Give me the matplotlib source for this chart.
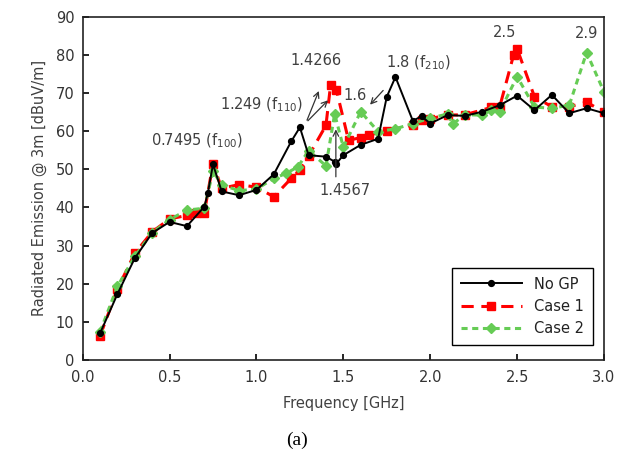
import matplotlib
matplotlib.use("Agg")
import matplotlib.pyplot as plt

# ---- data ----
f_nogp = [0.1, 0.2, 0.3, 0.4, 0.5, 0.6, 0.7, 0.72, 0.75, 0.8,
          0.9, 1.0, 1.1, 1.2, 1.25, 1.3, 1.4, 1.45, 1.46, 1.5,
          1.6, 1.7, 1.75, 1.8, 1.9, 1.95, 2.0, 2.1, 2.2, 2.3,
          2.4, 2.5, 2.6, 2.7, 2.8, 2.9, 3.0]
v_nogp = [7.0, 17.3, 26.7, 33.3, 36.2, 35.1, 40.2, 43.7, 51.3, 44.2,
          43.2, 44.6, 48.7, 57.3, 61.0, 53.7, 53.3, 52.0, 51.5, 53.7,
          56.4, 58.0, 69.0, 74.2, 62.7, 63.9, 62.0, 64.2, 64.0, 65.1,
          66.8, 69.3, 65.5, 69.5, 64.7, 66.0, 64.7]

f_case1 = [0.1, 0.2, 0.3, 0.4, 0.5, 0.6, 0.65, 0.7, 0.75, 0.8,
           0.9, 1.0, 1.1, 1.2, 1.25, 1.3, 1.4, 1.4266, 1.46, 1.53,
           1.6, 1.65, 1.75, 1.9, 1.95, 2.0, 2.1, 2.2, 2.35, 2.4,
           2.48, 2.5, 2.6, 2.7, 2.8, 2.9, 3.0]
v_case1 = [6.3, 18.6, 28.0, 33.6, 37.0, 37.9, 38.5, 38.6, 51.5, 45.0,
           46.0, 45.3, 42.8, 47.6, 49.8, 53.5, 61.5, 72.1, 70.8, 57.6,
           58.3, 59.0, 60.1, 61.6, 62.9, 63.3, 64.2, 64.3, 66.2, 66.4,
           80.0, 81.6, 69.0, 66.4, 66.4, 67.6, 65.0]

f_case2 = [0.1, 0.2, 0.3, 0.4, 0.5, 0.6, 0.7, 0.75, 0.8,
           0.9, 1.0, 1.1, 1.17, 1.24, 1.3, 1.4, 1.45, 1.5, 1.6,
           1.7, 1.8, 1.9, 2.0, 2.1, 2.13, 2.2, 2.3, 2.35, 2.4,
           2.5, 2.6, 2.7, 2.8, 2.9, 3.0]
v_case2 = [7.4, 19.3, 27.2, 33.4, 36.8, 39.3, 39.8, 49.5, 45.9,
           44.4, 44.8, 47.6, 48.9, 50.7, 54.9, 50.9, 64.5, 55.8, 65.1,
           59.9, 60.6, 62.0, 63.4, 64.5, 61.9, 64.3, 64.2, 65.5, 65.1,
           74.3, 66.3, 66.0, 66.8, 80.6, 70.3]

series_labels = ["No GP", "Case 1", "Case 2"]
x_ticks = [0.0, 0.5, 1.0, 1.5, 2.0, 2.5, 3.0]
y_ticks = [0, 10, 20, 30, 40, 50, 60, 70, 80, 90]

txt = "#404040"
fig = plt.figure(figsize=(6.23, 4.61), dpi=100)
ax = fig.add_axes([0.1327, 0.219, 0.8368, 0.7448])

ax.plot(f_nogp, v_nogp, color="black", lw=1.4, marker="o", ms=4.2,
        label=series_labels[0], zorder=3)
ax.plot(f_case1, v_case1, color="#ff0000", lw=2.2, ls=(0, (4, 2.5)), marker="s", ms=5.2,
        label=series_labels[1], zorder=2)
ax.plot(f_case2, v_case2, color="#66cc55", lw=2.2, ls=(0, (2, 1.5)), marker="D", ms=4.6,
        label=series_labels[2], zorder=2.5)

ax.set_xlim(0, 3.0)
ax.set_ylim(0, 90)
ax.set_xticks(x_ticks)
ax.set_yticks(y_ticks)
ax.set_xticklabels([f"{t:.1f}" for t in x_ticks])
ax.tick_params(direction="in", length=4, width=1.2, labelsize=10.5, colors="black",
               labelcolor="#333333")
ax.tick_params(axis="x", pad=7)
ax.tick_params(axis="y", pad=6)
for s in ax.spines.values():
    s.set_linewidth(1.2)
    s.set_color("#222222")

ax.set_xlabel("Frequency [GHz]", fontsize=10.5, color=txt, labelpad=8)
ax.set_ylabel("Radiated Emission @ 3m [dBuV/m]", fontsize=10.5, color=txt, labelpad=6)

fs = 10.5
ax.text(0.66, 55.0, r"0.7495 (f$\mathregular{_{100}}$)", fontsize=fs, color=txt, ha="center", va="bottom")
ax.text(1.03, 64.5, r"1.249 (f$\mathregular{_{110}}$)", fontsize=fs, color=txt, ha="center", va="bottom")
ax.text(1.34, 76.5, "1.4266", fontsize=fs, color=txt, ha="center", va="bottom")
ax.text(1.565, 67.3, "1.6", fontsize=fs, color=txt, ha="center", va="bottom")
ax.text(1.93, 75.5, r"1.8 (f$\mathregular{_{210}}$)", fontsize=fs, color=txt, ha="center", va="bottom")
ax.text(1.51, 46.5, "1.4567", fontsize=fs, color=txt, ha="center", va="top")
ax.text(2.43, 84.0, "2.5", fontsize=fs, color=txt, ha="center", va="bottom")
ax.text(2.90, 83.5, "2.9", fontsize=fs, color=txt, ha="center", va="bottom")

arrow = dict(arrowstyle="->", color="#333333", lw=0.9)
ax.annotate("", xy=(1.365, 71.2), xytext=(1.285, 62.2), arrowprops=arrow)
ax.annotate("", xy=(1.423, 68.6), xytext=(1.285, 62.2), arrowprops=arrow)
ax.annotate("", xy=(1.643, 66.4), xytext=(1.74, 71.2), arrowprops=arrow)
ax.annotate("", xy=(1.457, 61.2), xytext=(1.457, 47.3), arrowprops=arrow)

leg = ax.legend(loc="lower right", bbox_to_anchor=(0.992, 0.023), fontsize=10.5,
                fancybox=False, edgecolor="black", framealpha=1, handlelength=4.2,
                borderpad=0.6, labelspacing=0.5, handletextpad=0.8)
leg.get_frame().set_linewidth(1.0)
for t in leg.get_texts():
    t.set_color("#222222")

fig.text(0.477, 0.045, "(a)", fontsize=14, family="Liberation Serif", ha="center", va="center")

fig.savefig("out.png", dpi=100)
